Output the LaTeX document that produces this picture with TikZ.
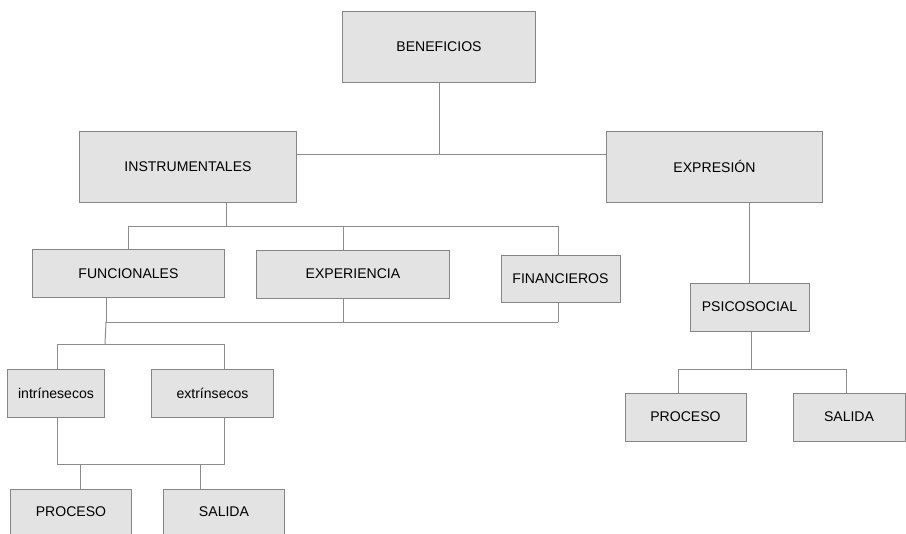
\documentclass[tikz,border=0pt]{standalone}
\usepackage{fontspec}
\setmainfont{Liberation Sans}

\tikzset{
  box/.style={draw=black!48, fill=gray!22, line width=0.7pt, inner sep=0pt,
              font=\fontsize{10}{12}\selectfont},
  link/.style={draw=black!45, line width=0.7pt},
}

\begin{document}
\begin{tikzpicture}[x=0.025cm, y=-0.025cm]
\clip (0,0) rectangle (906,533);
\fill[white] (0,0) rectangle (906,533);

% Top of the tree
\node[box, minimum width=4.8cm, minimum height=1.775cm] (ben) at (439,46.5) {BENEFICIOS};
\node[box, minimum width=5.4cm, minimum height=1.775cm] (inst) at (188,166.5) {INSTRUMENTALES};
\node[box, minimum width=5.375cm, minimum height=1.775cm] (expr) at (714.5,166.5) {EXPRESIÓN};

% Instrumental branch
\node[box, minimum width=4.775cm, minimum height=1.19cm] (func) at (128.5,273.75) {FUNCIONALES};
\node[box, minimum width=4.8cm, minimum height=1.2cm] (expe) at (353,274) {EXPERIENCIA};
\node[box, minimum width=2.975cm, minimum height=1.175cm] (fina) at (560.5,278.5) {FINANCIEROS};
\node[box, minimum width=2.4cm, minimum height=1.2cm] (intr) at (56,393) {intrínesecos};
\node[box, minimum width=3.025cm, minimum height=1.2cm] (extr) at (212.5,393) {extrínsecos};
\node[box, minimum width=3cm, minimum height=1.15cm] (procA) at (71,512) {PROCESO};
\node[box, minimum width=3cm, minimum height=1.15cm] (saliA) at (224,512) {SALIDA};

% Expression branch
\node[box, minimum width=2.975cm, minimum height=1.2cm] (psic) at (749.5,307) {PSICOSOCIAL};
\node[box, minimum width=3.025cm, minimum height=1.2cm] (procB) at (685.5,417) {PROCESO};
\node[box, minimum width=2.8cm, minimum height=1.2cm] (saliB) at (849,417) {SALIDA};

% Level 0 -> level 1
\coordinate (jben) at (439,154);
\draw[link] (ben.south) -- (jben);
\draw[link] (inst.east |- jben) -- (expr.west |- jben);

% INSTRUMENTALES -> its three children
\coordinate (jinst) at (226,226);
\coordinate (dfunc) at (128,226);
\coordinate (dexpe) at (343,226);
\coordinate (dfina) at (558,226);
\draw[link] (inst.south -| jinst) -- (jinst);
\draw[link] (dfunc) -- (dfina);
\draw[link] (dfunc) -- (dfunc |- func.north);
\draw[link] (dexpe) -- (dexpe |- expe.north);
\draw[link] (dfina) -- (dfina |- fina.north);

% children joined below
\coordinate (ufunc) at (106,322);
\coordinate (uexpe) at (343,322);
\coordinate (ufina) at (558,322);
\draw[link] (ufunc) -- (ufina);
\draw[link] (ufunc |- func.south) -- (ufunc);
\draw[link] (uexpe |- expe.south) -- (uexpe);
\draw[link] (ufina |- fina.south) -- (ufina);

% -> intrinsecos / extrinsecos
\coordinate (jfunc) at (105,344);
\coordinate (dintr) at (57,344);
\coordinate (dextr) at (224,344);
\draw[link] (ufunc) -- (jfunc);
\draw[link] (dintr) -- (dextr);
\draw[link] (dintr) -- (dintr |- intr.north);
\draw[link] (dextr) -- (dextr |- extr.north);

% -> PROCESO / SALIDA (left)
\coordinate (uintr) at (57,464);
\coordinate (uextr) at (224,464);
\coordinate (dprocA) at (80,464);
\coordinate (dsaliA) at (200,464);
\draw[link] (uintr |- intr.south) -- (uintr) -- (uextr) -- (uextr |- extr.south);
\draw[link] (dprocA) -- (dprocA |- procA.north);
\draw[link] (dsaliA) -- (dsaliA |- saliA.north);

% Expression side
\draw[link] (expr.south -| psic.north) -- (psic.north);
\coordinate (jpsic) at (751,369);
\coordinate (dprocB) at (678,369);
\coordinate (dsaliB) at (846,369);
\draw[link] (psic.south -| jpsic) -- (jpsic);
\draw[link] (dprocB) -- (dsaliB);
\draw[link] (dprocB) -- (dprocB |- procB.north);
\draw[link] (dsaliB) -- (dsaliB |- saliB.north);

\end{tikzpicture}
\end{document}
